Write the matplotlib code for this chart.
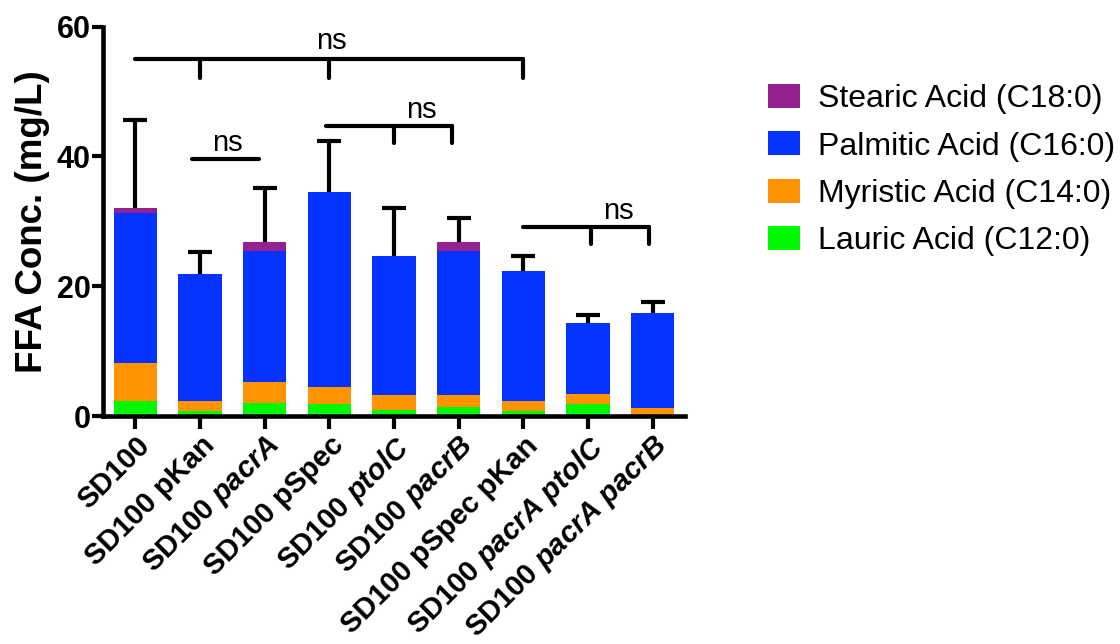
import matplotlib
matplotlib.use("Agg")
import matplotlib.pyplot as plt
import numpy as np

plt.rcParams['font.family'] = ['Liberation Sans', 'DejaVu Sans']
plt.rcParams['mathtext.fontset'] = 'custom'
plt.rcParams['mathtext.it'] = 'Liberation Sans:italic:bold'
plt.rcParams['mathtext.rm'] = 'Liberation Sans:bold'
plt.rcParams['mathtext.bf'] = 'Liberation Sans:bold'

categories = [
    "SD100",
    "SD100 pKan",
    r"SD100 $\mathit{pacrA}$",
    "SD100 pSpec",
    r"SD100 $\mathit{ptolC}$",
    r"SD100 $\mathit{pacrB}$",
    "SD100 pSpec pKan",
    r"SD100 $\mathit{pacrA}$ $\mathit{ptolC}$",
    r"SD100 $\mathit{pacrA}$ $\mathit{pacrB}$",
]
lauric = [2.3, 0.8, 2.0, 1.9, 1.0, 1.4, 0.8, 1.9, 0.0]
myristic = [5.9, 1.5, 3.2, 2.6, 2.2, 1.8, 1.5, 1.5, 1.3]
palmitic = [23.1, 19.6, 20.3, 30.0, 21.5, 22.2, 20.0, 10.9, 14.6]
stearic = [0.7, 0.0, 1.3, 0.0, 0.0, 1.4, 0.0, 0.0, 0.0]
sem = [13.6, 3.3, 8.3, 7.9, 7.3, 3.7, 2.4, 1.3, 1.7]

series_names = ["Lauric Acid (C12:0)", "Myristic Acid (C14:0)",
                "Palmitic Acid (C16:0)", "Stearic Acid (C18:0)"]
colors = ["#00F900", "#FF9300", "#0433FF", "#942192"]

# significance brackets: (x_left, x_right, y, down-tick x list, tick bottom y, ns x, ns baseline y)
brackets = [
    (0.0, 6.0, 55.0, [1.0, 3.0, 6.0], 52.1, 3.03, 56.6),
    (0.88, 1.92, 39.6, [], None, 1.43, 40.9),
    (2.95, 4.9, 44.7, [4.0, 4.9], 42.0, 4.42, 46.0),
    (5.99, 7.95, 29.1, [7.05, 7.95], 26.5, 7.47, 30.4),
]

fig = plt.figure(figsize=(11.2, 6.44), dpi=100)
ax = fig.add_axes([103/1120, 1-416/644, (685-103)/1120, (416-26.7)/644])

x = np.arange(len(categories))
bottom = np.zeros(len(categories))
handles = []
for vals, name, c in zip([lauric, myristic, palmitic, stearic], series_names, colors):
    b = ax.bar(x, vals, width=0.665, bottom=bottom, color=c, label=name, zorder=2)
    handles.append(b)
    bottom = bottom + np.array(vals)

tops = bottom + np.array(sem)
cap_half = 0.185
ax.vlines(x, bottom, tops, color='black', lw=3, zorder=1)
ax.hlines(tops, x - cap_half, x + cap_half, color='black', lw=3, zorder=1)

for xl, xr, y, ticks, yb, nx, ny in brackets:
    ax.plot([xl, xr], [y, y], color='black', lw=3, solid_capstyle='round', zorder=3, clip_on=False)
    for tx in ticks:
        ax.plot([tx, tx], [y, yb], color='black', lw=3, solid_capstyle='round', zorder=3, clip_on=False)
    ax.text(nx, ny, "ns", ha='center', va='baseline', fontsize=21, zorder=4)

ax.set_xlim(-0.5, 8.5)
ax.set_ylim(0, 60)
ax.set_yticks([0, 20, 40, 60])
ax.set_xticks(x)
ax.set_xticklabels(categories, rotation=45, ha='right', rotation_mode='anchor',
                   fontsize=21, fontweight='bold')
for lbl in ax.get_yticklabels():
    lbl.set_fontsize(22)
    lbl.set_fontweight('bold')
ax.tick_params(axis='both', direction='out', length=8, width=3, pad=1)
ax.tick_params(axis='x', length=9, pad=2)
for s in ['top', 'right']:
    ax.spines[s].set_visible(False)
for s in ['left', 'bottom']:
    ax.spines[s].set_linewidth(3.3)

ax.set_ylabel("FFA Conc. (mg/L)", fontsize=26.5, fontweight='bold', labelpad=5)

leg = fig.legend(handles[::-1], series_names[::-1], loc='upper left',
                 bbox_to_anchor=(768/1120, 1-84/644), frameon=False, fontsize=23,
                 handlelength=1.0, handleheight=0.78, handletextpad=0.55,
                 labelspacing=0.54, borderpad=0, borderaxespad=0)

fig.savefig("out.png", dpi=100)
